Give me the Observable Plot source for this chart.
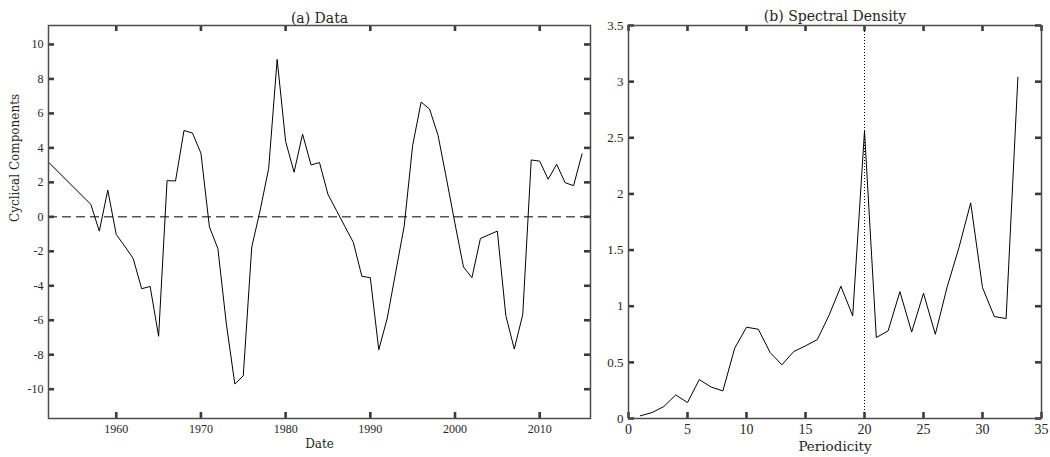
<!DOCTYPE html>
<html><head><meta charset="utf-8">
<script src="https://cdn.jsdelivr.net/npm/d3@7"></script>
<script src="https://cdn.jsdelivr.net/npm/@observablehq/plot@0.6"></script>
<style>
body{margin:0;background:#fff;}
#wrap{position:relative;width:1050px;height:457px;overflow:hidden;background:#fff;}
#a{position:absolute;left:0;top:0;}
#b{position:absolute;left:600px;top:0;}
</style></head><body><div id="wrap"><div id="a"></div><div id="b"></div></div>
<script>
// ---- data ----
const years = [1952,1957,1958,1959,1960,1961,1962,1963,1964,1965,1966,1967,1968,1969,1970,1971,1972,1973,1974,1975,1976,1977,1978,1979,1980,1981,1982,1983,1984,1985,1986,1987,1988,1989,1990,1991,1992,1993,1994,1995,1996,1997,1998,1999,2000,2001,2002,2003,2004,2005,2006,2007,2008,2009,2010,2011,2012,2013,2014,2015];
const cyclical = [3.17,0.72,-0.83,1.55,-1.03,-1.70,-2.42,-4.17,-4.04,-6.93,2.10,2.08,5.01,4.86,3.69,-0.58,-1.84,-6.21,-9.70,-9.22,-1.75,0.40,2.82,9.13,4.37,2.59,4.80,3.01,3.15,1.30,0.37,-0.56,-1.49,-3.45,-3.53,-7.71,-5.88,-3.20,-0.54,4.14,6.66,6.25,4.72,2.20,-0.40,-2.91,-3.53,-1.26,-1.04,-0.83,-5.73,-7.67,-5.67,3.30,3.23,2.18,3.05,1.98,1.81,3.65];
const periods = [1,2,3,4,5,6,7,8,9,10,11,12,13,14,15,16,17,18,19,20,21,22,23,24,25,26,27,28,29,30,31,32,33];
const density = [0.024,0.053,0.107,0.21,0.142,0.347,0.28,0.246,0.626,0.813,0.795,0.588,0.478,0.596,0.647,0.703,0.92,1.178,0.914,2.56,0.721,0.78,1.13,0.77,1.116,0.75,1.17,1.52,1.92,1.166,0.908,0.89,3.04];
const yearTicks = [1960,1970,1980,1990,2000,2010];
const cycTicks = [-10,-8,-6,-4,-2,0,2,4,6,8,10];
const perTicks = [0,5,10,15,20,25,30,35];
const denTicks = [0,0.5,1,1.5,2,2.5,3,3.5];
const refPeriod = [20];
const zeroLine = [0];
const titleA = ["(a) Data"];
const titleB = ["(b) Spectral Density"];
const xLabelA = ["Date"];
const yLabelA = ["Cyclical Components"];
const xLabelB = ["Periodicity"];

// ---- style ----
const ink = "#262626", frameInk = "#4d4d4d", tickInk = "#3a3a3a";
const serif = "'DejaVu Serif', serif";
const num = "'Liberation Serif', serif";
const fmt = d => String(d);
const H = 457, MT = 25, MB = 39;
const FH = H - MT - MB; // frame height
const TL = 6;           // tick length

const dataA = years.map((t, i) => ({t, v: cyclical[i]}));
const dataB = periods.map((p, i) => ({p, d: density[i]}));

// inward-pointing tick marks on all four sides (MATLAB-style box)
function inwardTicks(xt, yt, fw) {
  const s = {stroke: tickInk, strokeWidth: 2.6};
  return [
    Plot.tickX(xt, {x: d => d, insetBottom: FH - TL, ...s}),
    Plot.tickX(xt, {x: d => d, insetTop: FH - TL, ...s}),
    Plot.tickY(yt, {y: d => d, insetRight: fw - TL, ...s}),
    Plot.tickY(yt, {y: d => d, insetLeft: fw - TL, ...s})
  ];
}

const WA = 600, MLA = 48, MRA = 10;
const plotA = Plot.plot({
  width: WA, height: H,
  marginLeft: MLA, marginRight: MRA, marginTop: MT, marginBottom: MB,
  style: {fontFamily: num, fontSize: "12px", color: ink, background: "white", overflow: "visible"},
  x: {domain: [1952, 2016]},
  y: {domain: [-11.7, 11.1]},
  marks: [
    Plot.ruleY(zeroLine, {stroke: "black", strokeDasharray: "9,5", strokeWidth: 1}),
    Plot.line(dataA, {x: "t", y: "v", stroke: "black", strokeWidth: 1}),
    ...inwardTicks(yearTicks, cycTicks, WA - MLA - MRA),
    Plot.frame({stroke: frameInk, strokeWidth: 1.5}),
    Plot.axisX(yearTicks, {anchor: "bottom", tickSize: 0, tickPadding: 6, label: null, tickFormat: fmt, fill: ink, fontSize: 12}),
    Plot.axisY(cycTicks, {anchor: "left", tickSize: 0, tickPadding: 5, label: null, tickFormat: fmt, fill: ink, fontSize: 12}),
    Plot.text(titleA, {text: d => d, frameAnchor: "top", dy: -12, fontFamily: serif, fontSize: 14, fill: ink}),
    Plot.text(xLabelA, {text: d => d, frameAnchor: "bottom", dy: 29, fontFamily: serif, fontSize: 12, fill: ink}),
    Plot.text(yLabelA, {text: d => d, frameAnchor: "left", dx: -33, rotate: -90, fontFamily: serif, fontSize: 12, fill: ink})
  ]
});
document.getElementById("a").append(plotA);

const WB = 450, MLB = 28, MRB = 9;
const plotB = Plot.plot({
  width: WB, height: H,
  marginLeft: MLB, marginRight: MRB, marginTop: MT, marginBottom: MB,
  style: {fontFamily: num, fontSize: "13px", color: ink, background: "white", overflow: "visible"},
  x: {domain: [0, 35]},
  y: {domain: [0, 3.5]},
  marks: [
    Plot.ruleX(refPeriod, {stroke: "black", strokeDasharray: "1,2", strokeWidth: 1}),
    Plot.line(dataB, {x: "p", y: "d", stroke: "black", strokeWidth: 1}),
    ...inwardTicks(perTicks, denTicks, WB - MLB - MRB),
    Plot.frame({stroke: frameInk, strokeWidth: 1.5}),
    Plot.axisX(perTicks, {anchor: "bottom", tickSize: 0, tickPadding: 6, label: null, tickFormat: fmt, fill: ink, fontSize: 14}),
    Plot.axisY(denTicks, {anchor: "left", tickSize: 0, tickPadding: 5, label: null, tickFormat: fmt, fill: ink, fontSize: 13}),
    Plot.text(titleB, {text: d => d, frameAnchor: "top", dy: -14, fontFamily: serif, fontSize: 14, fill: ink}),
    Plot.text(xLabelB, {text: d => d, frameAnchor: "bottom", dy: 32, fontFamily: serif, fontSize: 13.5, fill: ink})
  ]
});
document.getElementById("b").append(plotB);
</script>
</body></html>
